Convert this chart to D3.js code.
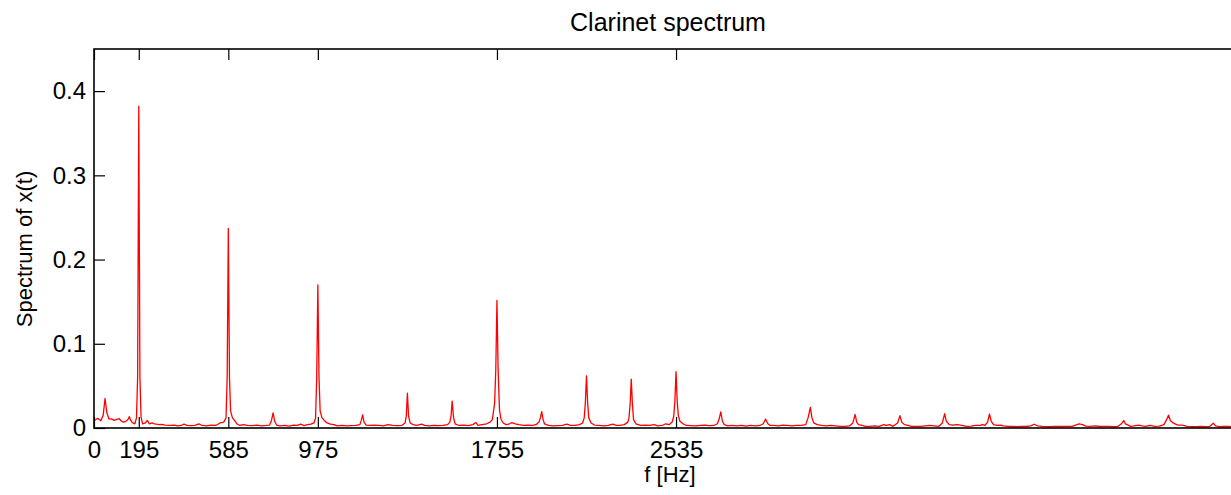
<!DOCTYPE html>
<html>
<head>
<meta charset="utf-8">
<script src="https://cdn.jsdelivr.net/npm/d3@7"></script>
<style>
  html, body { margin: 0; padding: 0; background: #fff; overflow: hidden; }
  svg { display: block; font-family: "Liberation Sans", Arial, Helvetica, sans-serif; }
</style>
</head>
<body>
<div id="chart"></div>
<script>
// Magnitude spectrum, [frequency in Hz, amplitude]
const lowBand = [
  [0, .0095], [8, .010], [16, .0115], [30, .0085], [40, .015], [48, .035], [56, .018],
  [65, .011], [78, .0105], [88, .009], [96, .010], [110, .011], [120, .008], [128, .007],
  [139, .008], [148, .010], [154, .0135], [160, .009], [167, .0064], [178, .005],
  [185, .012], [190, .06], [195, .382], [200, .06], [205, .013], [212, .005], [224, .006],
  [232, .009], [241, .005], [253, .006], [263, .005], [273, .0045], [285, .004],
  [295, .0042], [310, .0035], [331, .003], [350, .0035], [365, .0025], [380, .003],
  [392, .0045], [405, .003], [420, .0028], [440, .0032], [457, .005], [470, .003],
  [490, .0025], [510, .0035], [530, .003], [549, .006], [565, .007], [575, .012],
  [580, .06], [585, .237], [590, .06], [595, .02], [603, .012], [612, .009], [622, .005],
  [635, .003], [650, .004], [668, .003], [690, .0028], [710, .0035], [730, .0025],
  [750, .003], [765, .0035], [773, .009], [780, .018], [787, .008], [795, .0035]
]

const midBand = [
  [810, .0025], [830, .003], [850, .0022], [870, .0035], [885, .003], [900, .0045],
  [915, .0028], [930, .004], [945, .0045], [958, .006], [965, .012], [970, .06],
  [975, .17], [980, .06], [985, .02], [993, .012], [1003, .009], [1015, .006],
  [1030, .0045], [1045, .004], [1060, .0025], [1080, .003], [1100, .0025], [1120, .0028],
  [1140, .003], [1158, .004], [1164, .009], [1170, .0155], [1176, .007], [1185, .0035],
  [1200, .003], [1220, .0035], [1240, .003], [1260, .0025], [1280, .004], [1300, .003],
  [1320, .0028], [1340, .003], [1355, .006], [1360, .014], [1365, .0415], [1370, .014],
  [1377, .006], [1390, .004], [1405, .003], [1427, .0045], [1440, .003], [1460, .0025],
  [1480, .003], [1500, .0028], [1520, .0032], [1540, .004], [1550, .007], [1555, .014],
  [1560, .032], [1566, .012], [1573, .005], [1590, .003], [1610, .0035], [1630, .0028],
  [1650, .004], [1664, .0065], [1672, .003], [1690, .004], [1710, .005], [1725, .007],
  [1735, .01], [1745, .03], [1750, .07], [1755, .1516], [1760, .07], [1766, .022],
  [1772, .011], [1782, .006], [1795, .004], [1810, .005], [1820, .0065], [1835, .005],
  [1850, .004], [1870, .003], [1890, .0035], [1910, .003], [1925, .004], [1938, .007],
  [1944, .012], [1950, .0195], [1956, .01], [1962, .005], [1980, .003], [2000, .0025],
  [2020, .0028], [2040, .003], [2060, .0045], [2075, .003], [2095, .003], [2115, .004],
  [2128, .006], [2135, .012], [2140, .03], [2145, .062], [2150, .03], [2155, .012],
  [2165, .006], [2180, .0035], [2200, .003], [2220, .0025], [2240, .003], [2260, .0045],
  [2275, .003], [2290, .003], [2310, .004], [2325, .007], [2330, .012], [2335, .028],
  [2340, .058], [2345, .028], [2350, .01], [2360, .005], [2380, .003], [2400, .0035],
  [2420, .003], [2440, .004], [2455, .0025], [2475, .003], [2490, .005], [2505, .004],
  [2518, .007], [2525, .014], [2530, .032], [2535, .067], [2540, .032], [2545, .015],
  [2552, .008], [2565, .005], [2580, .003], [2600, .0028]
]

const highBand = [
  [2620, .0025], [2640, .003], [2660, .0035], [2680, .0028], [2700, .003], [2715, .005],
  [2722, .01], [2730, .019], [2737, .008], [2745, .004], [2760, .0025], [2780, .003],
  [2800, .0025], [2820, .003], [2840, .0022], [2860, .003], [2880, .0025], [2900, .003],
  [2915, .005], [2925, .0107], [2935, .005], [2945, .003], [2960, .003], [2980, .0025],
  [3000, .0035], [3020, .003], [3040, .0025], [3060, .003], [3080, .003], [3100, .004],
  [3110, .012], [3120, .0246], [3127, .012], [3135, .006], [3150, .004], [3170, .003],
  [3190, .0025], [3210, .003], [3230, .0025], [3250, .002], [3270, .002], [3290, .0025],
  [3305, .006], [3315, .016], [3322, .007], [3330, .004], [3345, .003], [3360, .002],
  [3380, .002], [3400, .0025], [3420, .002], [3440, .004], [3450, .003], [3465, .004],
  [3480, .002], [3500, .006], [3510, .0147], [3518, .007], [3530, .004], [3545, .003],
  [3560, .002], [3580, .002], [3600, .002], [3620, .0025], [3640, .003], [3660, .0025],
  [3680, .002], [3695, .006], [3705, .017], [3712, .008], [3725, .004], [3740, .0035],
  [3760, .004], [3780, .003], [3800, .002], [3820, .0022], [3840, .003], [3860, .003],
  [3870, .004], [3880, .003], [3892, .007], [3900, .0166], [3908, .008], [3918, .004],
  [3935, .003], [3950, .0035], [3960, .0025], [3980, .002], [4000, .0018], [4020, .0015],
  [4040, .002], [4060, .0018], [4080, .0025], [4095, .0045], [4110, .0025], [4130, .002],
  [4160, .0015], [4190, .002], [4210, .0018], [4240, .002], [4260, .002], [4275, .0035],
  [4290, .0048], [4305, .004], [4320, .0022], [4340, .002], [4360, .0025], [4380, .0018],
  [4400, .002], [4420, .002], [4440, .0015], [4460, .002], [4475, .005], [4485, .0088],
  [4492, .005], [4500, .004], [4515, .002], [4530, .0025], [4550, .0035], [4565, .0025],
  [4580, .002], [4600, .003], [4620, .002], [4640, .0022], [4660, .004], [4670, .009],
  [4680, .0152], [4688, .009], [4700, .006], [4720, .0035], [4740, .0035], [4760, .002],
  [4780, .0015], [4800, .0015], [4820, .0018], [4840, .0015], [4860, .002], [4875, .0056],
  [4885, .0025], [4900, .0015], [4920, .0018], [4940, .002], [4960, .0015], [4980, .0018],
  [5000, .002]
]

const xTicks = [0, 195, 585, 975, 1755, 2535]
const yTicks = [0, 0.1, 0.2, 0.3, 0.4]
const xDomain = [0, 5000]
const yDomain = [0, 0.45]

const width = 1231
const height = 495
const margin = { top: 49, left: 94, plotRight: 1242, bottom: 428 }
const tickLen = 11

const spectrum = lowBand.concat(midBand, highBand)

const svg = d3.select("#chart")
  .append("svg")
  .attr("width", width)
  .attr("height", height)

const x = d3.scaleLinear().domain(xDomain).range([margin.left, margin.plotRight])
const y = d3.scaleLinear().domain(yDomain).range([margin.bottom, margin.top])

svg.append("defs").append("clipPath")
  .attr("id", "plot-clip")
  .append("rect")
  .attr("x", margin.left).attr("y", margin.top)
  .attr("width", margin.plotRight - margin.left)
  .attr("height", margin.bottom - margin.top)

// Spectrum line
const line = d3.line()
  .x(d => x(d[0]))
  .y(d => y(d[1]))

svg.append("path")
  .attr("clip-path", "url(#plot-clip)")
  .attr("d", line(spectrum))
  .attr("fill", "none")
  .attr("stroke", "#ff0000")
  .attr("stroke-width", 1.3)
  .attr("stroke-linejoin", "round")

// Axes with inward ticks on all four sides
const fmtY = d => d === 0 ? "0" : d3.format(".1f")(d)

const styleAxis = g => {
  g.select(".domain").remove()
  g.selectAll(".tick line").attr("stroke", "#000").attr("stroke-width", 1.2)
  g.selectAll(".tick text")
    .attr("fill", "#000")
    .attr("font-size", "24px")
    .attr("font-family", "'Liberation Sans', Arial, Helvetica, sans-serif")
}

svg.append("g")
  .attr("transform", `translate(0,${margin.bottom})`)
  .call(d3.axisBottom(x).tickValues(xTicks).tickSize(-tickLen).tickPadding(13).tickFormat(d3.format("d")))
  .call(styleAxis)

svg.append("g")
  .attr("transform", `translate(0,${margin.top})`)
  .call(d3.axisTop(x).tickValues(xTicks).tickSize(-tickLen).tickFormat(""))
  .call(styleAxis)

svg.append("g")
  .attr("transform", `translate(${margin.left},0)`)
  .call(d3.axisLeft(y).tickValues(yTicks).tickSize(-tickLen).tickPadding(8).tickFormat(fmtY))
  .call(styleAxis)

svg.append("g")
  .attr("transform", `translate(${margin.plotRight},0)`)
  .call(d3.axisRight(y).tickValues(yTicks).tickSize(-tickLen).tickFormat(""))
  .call(styleAxis)

// Frame
svg.append("rect")
  .attr("x", margin.left).attr("y", margin.top)
  .attr("width", margin.plotRight - margin.left)
  .attr("height", margin.bottom - margin.top)
  .attr("fill", "none")
  .attr("stroke", "#000")
  .attr("stroke-width", 1.6)

// Title and axis labels
svg.append("text")
  .attr("x", (margin.left + margin.plotRight) / 2)
  .attr("y", 31)
  .attr("text-anchor", "middle")
  .attr("font-size", "25px")
  .attr("fill", "#000")
  .text("Clarinet spectrum")

svg.append("text")
  .attr("x", 670)
  .attr("y", 482)
  .attr("text-anchor", "middle")
  .attr("font-size", "22px")
  .attr("fill", "#000")
  .text("f [Hz]")

svg.append("text")
  .attr("transform", "translate(32,249) rotate(-90)")
  .attr("text-anchor", "middle")
  .attr("font-size", "22px")
  .attr("fill", "#000")
  .text("Spectrum of x(t)")
</script>
</body>
</html>
